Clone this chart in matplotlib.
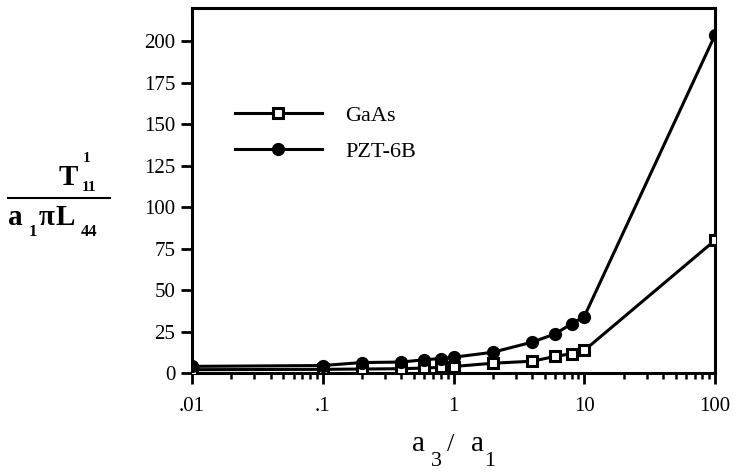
import numpy as np
import matplotlib
matplotlib.use('Agg')
import matplotlib.pyplot as plt

# aspect ratio a3/a1
ratio = [0.01, 0.1, 0.2, 0.4, 0.6, 0.8, 1, 2, 4, 6, 8, 10, 100]
gaas = [2.0, 2.2, 2.4, 2.6, 3.0, 3.4, 3.9, 5.9, 7.1, 10.0, 11.6, 13.6, 80.0]
pzt = [4.0, 4.5, 6.3, 6.6, 8.0, 8.7, 9.5, 12.5, 18.6, 23.6, 29.7, 34.0, 203.7]

yticks = [0, 25, 50, 75, 100, 125, 150, 175, 200]
xticks = [0.01, 0.1, 1, 10, 100]
xticklabels = ['.01', '.1', '1', '10', '100']

W, H = 734, 472
plt.rcParams['font.family'] = ['Liberation Serif', 'DejaVu Serif']

fig = plt.figure(figsize=(W / 100, H / 100), dpi=100)
ax = fig.add_axes([192 / W, 1 - 373 / H, (715 - 192) / W, (373 - 8) / H])

ax.plot(ratio, gaas, '-s', color='black', lw=2.2, ms=7, mfc='white',
        mec='black', mew=2.2, label='GaAs', zorder=3)
ax.plot(ratio, pzt, '-o', color='black', lw=2.2, ms=8.5, label='PZT-6B',
        zorder=4)

ax.set_xscale('log')
ax.set_xlim(0.01, 100)
ax.set_ylim(0, 220)
ax.set_xticks(xticks)
ax.set_xticklabels(xticklabels)
ax.set_yticks(yticks)
for s in ax.spines.values():
    s.set_linewidth(2.2)
ax.tick_params(which='major', direction='out', width=2, length=8,
               labelsize=15, pad=4)
ax.tick_params(axis='x', which='major', pad=9)
ax.tick_params(which='minor', direction='out', width=1.8, length=4)

ax.legend(loc='upper left', bbox_to_anchor=(235 / W, 1 - 105 / H),
          bbox_transform=fig.transFigure, frameon=False, fontsize=16,
          handlelength=3.9, handletextpad=1.05, labelspacing=0.72,
          borderpad=0, borderaxespad=0, numpoints=1)

# y label as a fraction
bold = dict(fontweight='bold', color='black')
fig.text(68 / W, 1 - 185 / H, 'T', fontsize=21, ha='center', va='baseline', **bold)
fig.text(87 / W, 1 - 162 / H, '1', fontsize=11, ha='center', va='baseline', **bold)
fig.text(89 / W, 1 - 191 / H, '11', fontsize=11, ha='center', va='baseline', **bold)
fig.add_artist(plt.Line2D([8 / W, 110 / W], [1 - 198 / H, 1 - 198 / H],
                          color='black', lw=1.5, transform=fig.transFigure))
fig.text(8 / W, 1 - 225 / H, 'a', fontsize=21, ha='left', va='baseline', **bold)
fig.text(33 / W, 1 - 236 / H, '1', fontsize=12, ha='center', va='baseline', **bold)
fig.text(39 / W, 1 - 225 / H, 'π', fontsize=21, ha='left', va='baseline', **bold)
fig.text(55 / W, 1 - 225 / H, 'L', fontsize=21, ha='left', va='baseline', **bold)
fig.text(89 / W, 1 - 236 / H, '44', fontsize=12, ha='center', va='baseline', **bold)

# x label
fig.text(412 / W, 1 - 451 / H, 'a', fontsize=21, ha='left', va='baseline')
fig.text(436 / W, 1 - 466 / H, '3', fontsize=16, ha='center', va='baseline')
fig.text(451 / W, 1 - 451 / H, '/', fontsize=19, ha='center', va='baseline')
fig.text(471 / W, 1 - 451 / H, 'a', fontsize=21, ha='left', va='baseline')
fig.text(490 / W, 1 - 466 / H, '1', fontsize=16, ha='center', va='baseline')

fig.savefig('out.png', dpi=100)
